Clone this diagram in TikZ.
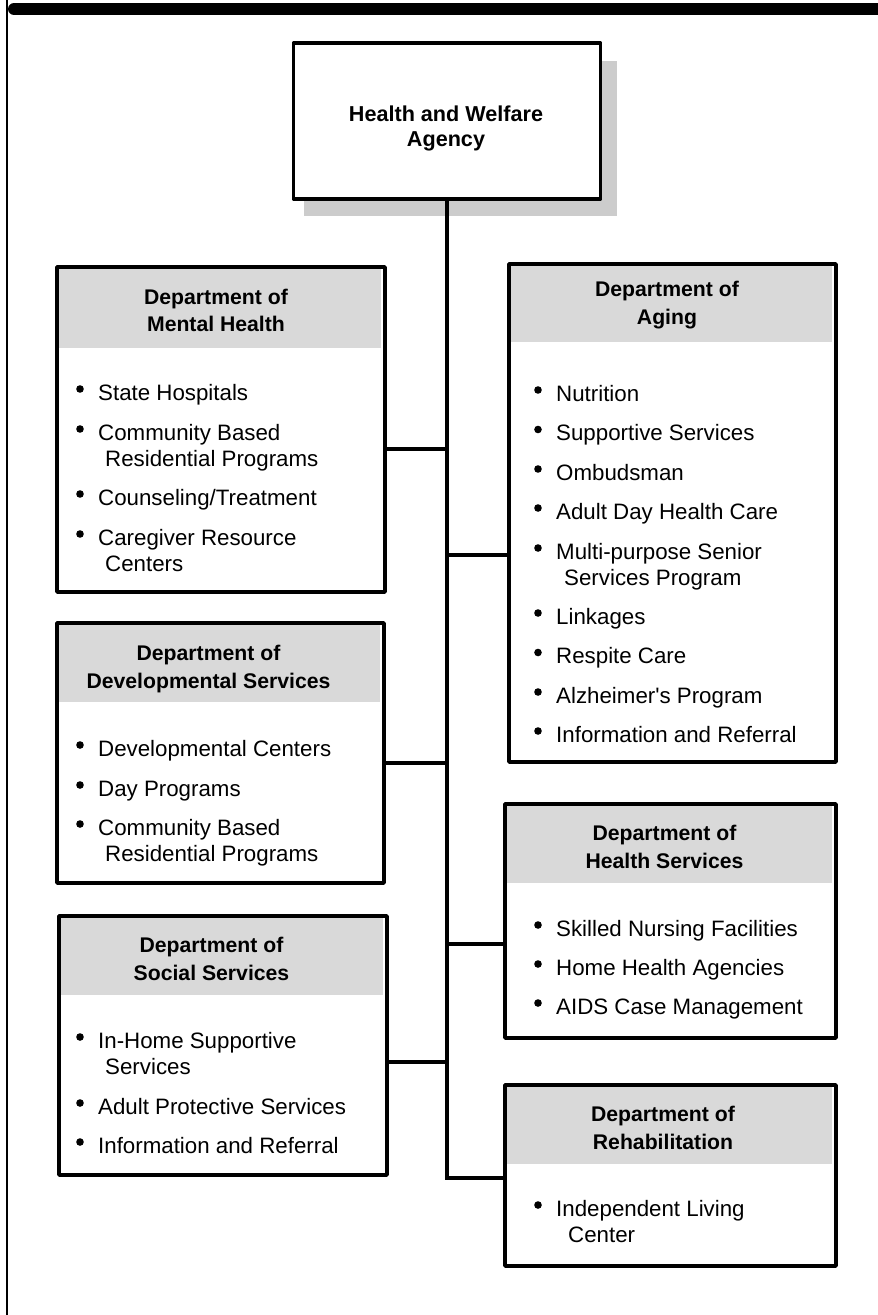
\documentclass[tikz,border=0pt]{standalone}
\usepackage{fontspec}
\setmainfont{Liberation Sans}
\definecolor{hdrgray}{HTML}{D9D9D9}
\definecolor{shadowgray}{HTML}{CCCCCC}
\tikzset{
  box/.style={draw, line width=3.5pt, rectangle, inner sep=0pt, outer sep=0pt, line join=round},
  conn/.style={line width=3.2pt},
  hdrfill/.style={fill=hdrgray},
  htxt/.style={anchor=base, inner sep=0pt, font=\fontsize{21.2}{25}\selectfont\bfseries},
  itxt/.style={anchor=base west, inner sep=0pt, font=\fontsize{22.3}{26}\selectfont},
  bulletdot/.style={fill=black},
}
\begin{document}
\begin{tikzpicture}[x=1pt, y=-1pt]
\fill[white] (0,0) rectangle (878,1315);
\useasboundingbox (0,0) rectangle (878,1315);

% page frame
\draw[line width=1.5pt] (7,0) -- (7,1315);
\draw[line width=12pt, line cap=round] (14,9) -- (884,9);

% top box
\fill[shadowgray] (304,61) rectangle (617,216);
\node[box, fill=white, minimum width=307pt, minimum height=156pt] (hw) at (447,121) {};
\node[htxt, font=\fontsize{21.6}{25}\selectfont\bfseries] (hw1) at (446,121) {Health and Welfare};
\node[htxt, font=\fontsize{21.6}{25}\selectfont\bfseries] (hw2) at (446,146) {Agency};

% Mental Health
\fill[hdrfill] (57,267) rectangle (381,348);
\node[box, minimum width=328pt, minimum height=325pt] (mh) at (221,429.5) {};
\node[htxt] (mhh1) at (216,304) {Department of};
\node[htxt] (mhh2) at (216,331) {Mental Health};
\foreach \b in {400,440,505,545} \fill[bulletdot] (80,\b-11) circle (3.8pt);
\node[itxt] (mhi1) at (98,400) {State Hospitals};
\node[itxt] (mhi2) at (98,440) {Community Based};
\node[itxt] (mhi2b) at (105,466) {Residential Programs};
\node[itxt] (mhi3) at (98,505) {Counseling/Treatment};
\node[itxt] (mhi4) at (98,545) {Caregiver Resource};
\node[itxt] (mhi4b) at (105,571) {Centers};

% Aging
\fill[hdrfill] (509,264) rectangle (832,342);
\node[box, minimum width=327pt, minimum height=498pt] (ag) at (672.5,513) {};
\node[htxt] (agh1) at (667,296) {Department of};
\node[htxt] (agh2) at (667,324) {Aging};
\foreach \b in {401,440.5,480,519,559,624,663.5,703,742} \fill[bulletdot] (538,\b-11) circle (3.8pt);
\node[itxt] (agi1) at (556,401) {Nutrition};
\node[itxt] (agi2) at (556,440.5) {Supportive Services};
\node[itxt] (agi3) at (556,480) {Ombudsman};
\node[itxt] (agi4) at (556,519) {Adult Day Health Care};
\node[itxt] (agi5) at (556,559) {Multi-purpose Senior};
\node[itxt] (agi5b) at (564,585) {Services Program};
\node[itxt] (agi6) at (556,624) {Linkages};
\node[itxt] (agi7) at (556,663.5) {Respite Care};
\node[itxt] (agi8) at (556,703) {Alzheimer\textquotesingle s Program};
\node[itxt] (agi9) at (556,742) {Information and Referral};

% Developmental Services
\fill[hdrfill] (57,623) rectangle (380,702);
\node[box, minimum width=327pt, minimum height=260pt] (ds) at (220.5,753) {};
\node[htxt] (dsh1) at (208.5,660) {Department of};
\node[htxt] (dsh2) at (208.5,688) {Developmental Services};
\foreach \b in {756,796,835} \fill[bulletdot] (80,\b-11) circle (3.8pt);
\node[itxt] (dsi1) at (98,756) {Developmental Centers};
\node[itxt] (dsi2) at (98,796) {Day Programs};
\node[itxt] (dsi3) at (98,835) {Community Based};
\node[itxt] (dsi3b) at (105,861) {Residential Programs};

% Health Services
\fill[hdrfill] (505,804) rectangle (832,883);
\node[box, minimum width=331pt, minimum height=234pt] (hs) at (670.5,921) {};
\node[htxt] (hsh1) at (664.5,840) {Department of};
\node[htxt] (hsh2) at (664.5,868) {Health Services};
\foreach \b in {936,975,1014} \fill[bulletdot] (538,\b-11) circle (3.8pt);
\node[itxt] (hsi1) at (556,936) {Skilled Nursing Facilities};
\node[itxt] (hsi2) at (556,975) {Home Health Agencies};
\node[itxt] (hsi3) at (556,1014) {AIDS Case Management};

% Social Services
\fill[hdrfill] (59,916) rectangle (383,995);
\node[box, minimum width=328pt, minimum height=259pt] (ss) at (223,1045.5) {};
\node[htxt] (ssh1) at (211.5,952) {Department of};
\node[htxt] (ssh2) at (211.5,980) {Social Services};
\foreach \b in {1048,1114,1153} \fill[bulletdot] (80,\b-11) circle (3.8pt);
\node[itxt] (ssi1) at (98,1048) {In-Home Supportive};
\node[itxt] (ssi1b) at (105,1074) {Services};
\node[itxt] (ssi2) at (98,1114) {Adult Protective Services};
\node[itxt] (ssi3) at (98,1153) {Information and Referral};

% Rehabilitation
\fill[hdrfill] (505,1085) rectangle (832,1164);
\node[box, minimum width=331pt, minimum height=181pt] (rh) at (670.5,1175.5) {};
\node[htxt] (rhh1) at (663,1121) {Department of};
\node[htxt] (rhh2) at (663,1149) {Rehabilitation};
\fill[bulletdot] (538,1216-11) circle (3.8pt);
\node[itxt] (rhi1) at (556,1216) {Independent Living};
\node[itxt] (rhi1b) at (568,1242) {Center};

% connectors
\coordinate (tMH) at (447,449);
\coordinate (tAG) at (447,555);
\coordinate (tDS) at (447,763);
\coordinate (tHS) at (447,944);
\coordinate (tSS) at (447,1062);
\coordinate (tRH) at (447,1178);
\draw[conn] (hw.south) -- (tRH) -- (rh.west |- tRH);
\draw[conn] (mh.east |- tMH) -- (tMH);
\draw[conn] (tAG) -- (ag.west |- tAG);
\draw[conn] (ds.east |- tDS) -- (tDS);
\draw[conn] (tHS) -- (hs.west |- tHS);
\draw[conn] (ss.east |- tSS) -- (tSS);
\end{tikzpicture}
\end{document}
